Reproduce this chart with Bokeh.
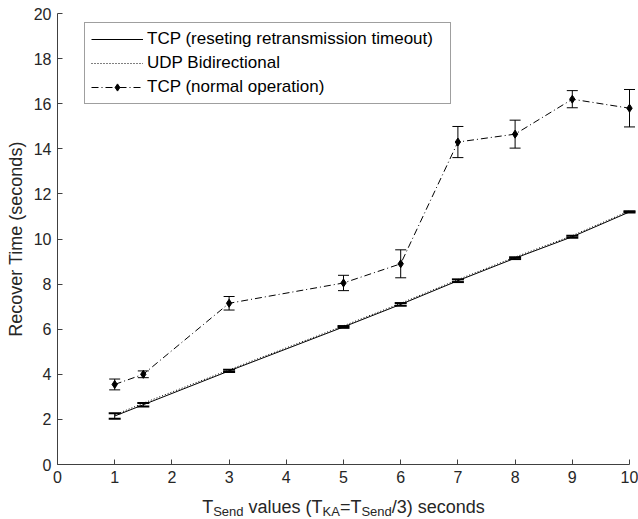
from bokeh.plotting import figure
from bokeh.models import (ColumnDataSource, Whisker, TeeHead, Legend, LegendItem,
                          Label, FixedTicker, Range1d)
from bokeh.embed import file_html
from bokeh.resources import INLINE

# ---- data ----
t_send = [1, 1.5, 3, 5, 6, 7, 8, 9, 10]
tcp_reset = [2.15, 2.65, 4.15, 6.1, 7.1, 8.15, 9.15, 10.1, 11.2]
tcp_reset_err = [0.12, 0.08, 0.05, 0.04, 0.06, 0.06, 0.04, 0.04, 0.03]
udp_bidir = [2.2, 2.72, 4.2, 6.15, 7.15, 8.2, 9.2, 10.15, 11.25]
tcp_normal = [3.55, 4.0, 7.15, 8.05, 8.9, 14.3, 14.65, 16.2, 15.8]
tcp_normal_err = [0.24, 0.15, 0.3, 0.34, 0.62, 0.69, 0.62, 0.38, 0.83]

x_ticks = [0, 1, 2, 3, 4, 5, 6, 7, 8, 9, 10]
y_ticks = [0, 2, 4, 6, 8, 10, 12, 14, 16, 18, 20]
x_bounds = (0, 10)
y_bounds = (0, 20)

legend_labels = ["TCP (reseting retransmission timeout)", "UDP Bidirectional",
                 "TCP (normal operation)"]
y_title = "Recover Time (seconds)"
# x title pieces: (text, is_subscript)
x_title_parts = [("T", False), ("Send", True), (" values (T", False), ("KA", True),
                 ("=T", False), ("Send", True), ("/3) seconds", False)]

FONT = "Liberation Sans"
AXC = "#404040"
TXT = "#262626"

# canvas / frame geometry (pixels)
WIDTH, HEIGHT = 638, 519
X0_PX, X10_PX = 57.0, 629.0      # where x=0 and x=10 fall
Y0_PX, Y20_PX = 464.0, 13.0      # where y=0 and y=20 fall
sx = (X10_PX - X0_PX) / (x_bounds[1] - x_bounds[0])
sy = (Y0_PX - Y20_PX) / (y_bounds[1] - y_bounds[0])
x_range = Range1d(x_bounds[0] - X0_PX / sx, x_bounds[1] + (WIDTH - X10_PX) / sx)
y_range = Range1d(y_bounds[0] - (HEIGHT - Y0_PX) / sy, y_bounds[1] + Y20_PX / sy)

src_reset = ColumnDataSource(dict(
    x=t_send, y=tcp_reset,
    lo=[v - e for v, e in zip(tcp_reset, tcp_reset_err)],
    hi=[v + e for v, e in zip(tcp_reset, tcp_reset_err)]))
src_udp = ColumnDataSource(dict(x=t_send, y=udp_bidir))
src_norm = ColumnDataSource(dict(
    x=t_send, y=tcp_normal,
    lo=[v - e for v, e in zip(tcp_normal, tcp_normal_err)],
    hi=[v + e for v, e in zip(tcp_normal, tcp_normal_err)]))

p = figure(width=WIDTH, height=HEIGHT, x_range=x_range, y_range=y_range,
           output_backend="svg", toolbar_location=None,
           min_border_left=0, min_border_right=0, min_border_top=0, min_border_bottom=0)
p.background_fill_color = "white"
p.border_fill_color = "white"
p.outline_line_color = None
p.grid.visible = False

p.xaxis.fixed_location = 0
p.yaxis.fixed_location = 0
p.xaxis.bounds = x_bounds
p.yaxis.bounds = y_bounds
for ax in (p.xaxis[0], p.yaxis[0]):
    ax.axis_line_color = AXC
    ax.major_tick_line_color = AXC
    ax.major_tick_in = 5
    ax.major_tick_out = 0
    ax.minor_tick_line_color = None
    ax.major_label_text_font = FONT
    ax.major_label_text_font_size = "16px"
    ax.major_label_text_color = TXT
    ax.major_label_standoff = 6
p.xaxis.ticker = FixedTicker(ticks=x_ticks)
p.yaxis.ticker = FixedTicker(ticks=y_ticks)

# TCP (reseting retransmission timeout)
r_reset = p.line("x", "y", source=src_reset, line_color="black", line_width=1)
p.add_layout(Whisker(base="x", lower="lo", upper="hi", source=src_reset,
                     line_color="black", line_width=1,
                     lower_head=TeeHead(size=12, line_color="black", line_width=2),
                     upper_head=TeeHead(size=12, line_color="black", line_width=2)))
# UDP Bidirectional
r_udp = p.line("x", "y", source=src_udp, line_color="black", line_width=1, line_dash="1 2")
# TCP (normal operation)
r_norm = p.line("x", "y", source=src_norm, line_color="black", line_width=1,
                line_dash="7 3 1 3")
p.add_layout(Whisker(base="x", lower="lo", upper="hi", source=src_norm,
                     line_color="black", line_width=1,
                     lower_head=TeeHead(size=11, line_color="black", line_width=1),
                     upper_head=TeeHead(size=11, line_color="black", line_width=1)))
r_norm_pts = p.scatter("x", "y", source=src_norm, marker="diamond", size=8,
                       fill_color="black", line_color="black")

legend = Legend(items=[
    LegendItem(label=legend_labels[0], renderers=[r_reset]),
    LegendItem(label=legend_labels[1], renderers=[r_udp]),
    LegendItem(label=legend_labels[2], renderers=[r_norm, r_norm_pts]),
], location=(84, HEIGHT - 104))
legend.label_text_font = FONT
legend.label_text_font_size = "17px"
legend.label_text_color = "black"
legend.glyph_width = 52
legend.glyph_height = 18
legend.label_height = 18
legend.label_width = 297
legend.label_standoff = 4
legend.spacing = 4
legend.padding = 6
legend.margin = 0
legend.border_line_color = AXC
legend.border_line_width = 1
legend.background_fill_color = "white"
legend.background_fill_alpha = 1
p.add_layout(legend, "center")

# y title
p.add_layout(Label(x=0, y=10, x_units="data", y_units="data", x_offset=-42,
                   text=y_title, angle=90, angle_units="deg",
                   text_align="center", text_baseline="middle",
                   text_font=FONT, text_font_size="18px", text_color=TXT))

# x title with subscripts
W = {"T": 611, "S": 667, "e": 556, "n": 556, "d": 556, " ": 278, "v": 500, "a": 556,
     "l": 222, "u": 556, "s": 500, "(": 333, ")": 333, "K": 667, "A": 667, "=": 584,
     "/": 278, "3": 556, "c": 500, "o": 556}
MAIN, SUB = 18, 13


def text_w(t, size):
    return sum(W.get(ch, 556) for ch in t) / 1000 * size


widths = [text_w(t, SUB if sub else MAIN) for t, sub in x_title_parts]
off = -sum(widths) / 2
for (t, sub), w in zip(x_title_parts, widths):
    size = SUB if sub else MAIN
    lead = len(t) - len(t.lstrip(" "))
    p.add_layout(Label(x=5, y=0, x_units="data", y_units="data",
                       x_offset=off + text_w(" " * lead, size),
                       y_offset=(-47 if sub else -42), text=t.lstrip(" "),
                       text_align="left", text_baseline="alphabetic",
                       text_font=FONT, text_font_size=f"{size}px",
                       text_color=TXT))
    off += w

open("out.html", "w").write(file_html(p, INLINE))
